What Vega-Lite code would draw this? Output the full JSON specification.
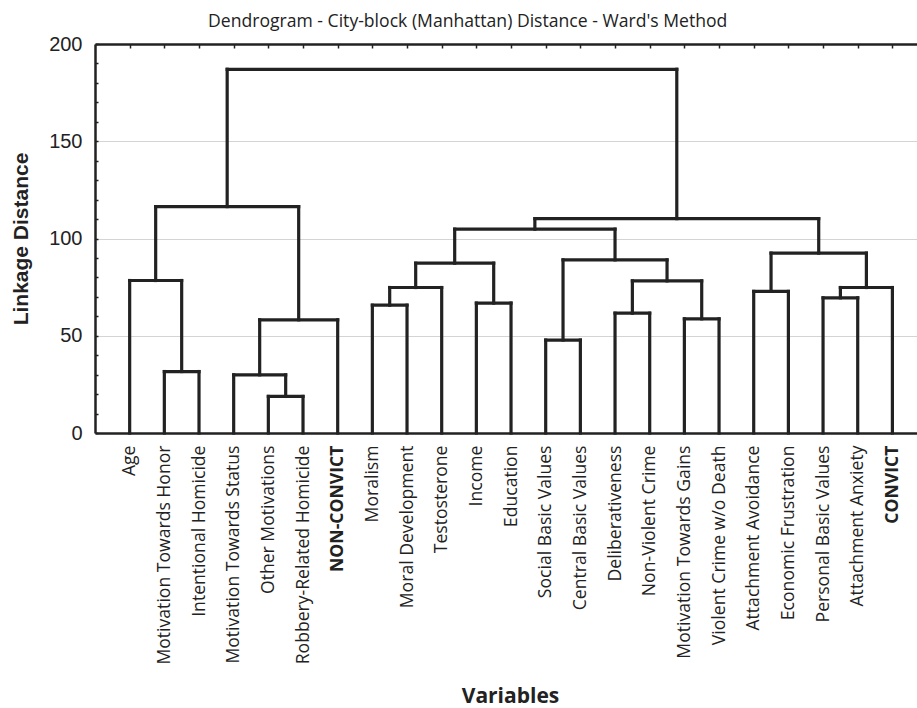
{
  "$schema": "https://vega.github.io/schema/vega-lite/v6.json",
  "width": 822,
  "height": 389,
  "autosize": "none",
  "padding": {"left": 95, "top": 44, "right": 0, "bottom": 275},
  "background": "white",
  "config": {"view": {"stroke": null}},
  "title": {
    "text": "Dendrogram - City-block (Manhattan) Distance - Ward's Method",
    "font": "Open Sans",
    "fontSize": 17.6,
    "fontWeight": "normal",
    "color": "#222222",
    "anchor": "start",
    "frame": "group",
    "dx": 113,
    "offset": 3
  },
  "data": {
    "values": [
      {"x": 2, "x2": 2, "y": 0, "y2": 31.6},
      {"x": 3, "x2": 3, "y": 0, "y2": 31.6},
      {"x": 2, "x2": 3, "y": 31.6, "y2": 31.6},
      {"x": 1, "x2": 1, "y": 0, "y2": 78.4},
      {"x": 2.5, "x2": 2.5, "y": 31.6, "y2": 78.4},
      {"x": 1, "x2": 2.5, "y": 78.4, "y2": 78.4},
      {"x": 5, "x2": 5, "y": 0, "y2": 18.8},
      {"x": 6, "x2": 6, "y": 0, "y2": 18.8},
      {"x": 5, "x2": 6, "y": 18.8, "y2": 18.8},
      {"x": 4, "x2": 4, "y": 0, "y2": 29.9},
      {"x": 5.5, "x2": 5.5, "y": 18.8, "y2": 29.9},
      {"x": 4, "x2": 5.5, "y": 29.9, "y2": 29.9},
      {"x": 4.75, "x2": 4.75, "y": 29.9, "y2": 58.2},
      {"x": 7, "x2": 7, "y": 0, "y2": 58.2},
      {"x": 4.75, "x2": 7, "y": 58.2, "y2": 58.2},
      {"x": 1.75, "x2": 1.75, "y": 78.4, "y2": 116.4},
      {"x": 5.875, "x2": 5.875, "y": 58.2, "y2": 116.4},
      {"x": 1.75, "x2": 5.875, "y": 116.4, "y2": 116.4},
      {"x": 8, "x2": 8, "y": 0, "y2": 65.7},
      {"x": 9, "x2": 9, "y": 0, "y2": 65.7},
      {"x": 8, "x2": 9, "y": 65.7, "y2": 65.7},
      {"x": 8.5, "x2": 8.5, "y": 65.7, "y2": 74.8},
      {"x": 10, "x2": 10, "y": 0, "y2": 74.8},
      {"x": 8.5, "x2": 10, "y": 74.8, "y2": 74.8},
      {"x": 11, "x2": 11, "y": 0, "y2": 66.8},
      {"x": 12, "x2": 12, "y": 0, "y2": 66.8},
      {"x": 11, "x2": 12, "y": 66.8, "y2": 66.8},
      {"x": 9.25, "x2": 9.25, "y": 74.8, "y2": 87.3},
      {"x": 11.5, "x2": 11.5, "y": 66.8, "y2": 87.3},
      {"x": 9.25, "x2": 11.5, "y": 87.3, "y2": 87.3},
      {"x": 13, "x2": 13, "y": 0, "y2": 47.8},
      {"x": 14, "x2": 14, "y": 0, "y2": 47.8},
      {"x": 13, "x2": 14, "y": 47.8, "y2": 47.8},
      {"x": 15, "x2": 15, "y": 0, "y2": 61.6},
      {"x": 16, "x2": 16, "y": 0, "y2": 61.6},
      {"x": 15, "x2": 16, "y": 61.6, "y2": 61.6},
      {"x": 17, "x2": 17, "y": 0, "y2": 58.7},
      {"x": 18, "x2": 18, "y": 0, "y2": 58.7},
      {"x": 17, "x2": 18, "y": 58.7, "y2": 58.7},
      {"x": 15.5, "x2": 15.5, "y": 61.6, "y2": 78.2},
      {"x": 17.5, "x2": 17.5, "y": 58.7, "y2": 78.2},
      {"x": 15.5, "x2": 17.5, "y": 78.2, "y2": 78.2},
      {"x": 13.5, "x2": 13.5, "y": 47.8, "y2": 89.0},
      {"x": 16.5, "x2": 16.5, "y": 78.2, "y2": 89.0},
      {"x": 13.5, "x2": 16.5, "y": 89.0, "y2": 89.0},
      {"x": 10.375, "x2": 10.375, "y": 87.3, "y2": 104.8},
      {"x": 15, "x2": 15, "y": 89.0, "y2": 104.8},
      {"x": 10.375, "x2": 15, "y": 104.8, "y2": 104.8},
      {"x": 19, "x2": 19, "y": 0, "y2": 72.8},
      {"x": 20, "x2": 20, "y": 0, "y2": 72.8},
      {"x": 19, "x2": 20, "y": 72.8, "y2": 72.8},
      {"x": 21, "x2": 21, "y": 0, "y2": 69.5},
      {"x": 22, "x2": 22, "y": 0, "y2": 69.5},
      {"x": 21, "x2": 22, "y": 69.5, "y2": 69.5},
      {"x": 21.5, "x2": 21.5, "y": 69.5, "y2": 74.8},
      {"x": 23, "x2": 23, "y": 0, "y2": 74.8},
      {"x": 21.5, "x2": 23, "y": 74.8, "y2": 74.8},
      {"x": 19.5, "x2": 19.5, "y": 72.8, "y2": 92.5},
      {"x": 22.25, "x2": 22.25, "y": 74.8, "y2": 92.5},
      {"x": 19.5, "x2": 22.25, "y": 92.5, "y2": 92.5},
      {"x": 12.6875, "x2": 12.6875, "y": 104.8, "y2": 110.2},
      {"x": 20.875, "x2": 20.875, "y": 92.5, "y2": 110.2},
      {"x": 12.6875, "x2": 20.875, "y": 110.2, "y2": 110.2},
      {"x": 3.8125, "x2": 3.8125, "y": 116.4, "y2": 187.0},
      {"x": 16.78125, "x2": 16.78125, "y": 110.2, "y2": 187.0},
      {"x": 3.8125, "x2": 16.78125, "y": 187.0, "y2": 187.0}
    ]
  },
  "resolve": {"axis": {"x": "independent"}},
  "layer": [
    {
      "mark": {"type": "rule", "color": "#222222", "strokeWidth": 3.2, "strokeCap": "square"},
      "encoding": {
        "x": {
          "field": "x",
          "type": "quantitative",
          "scale": {"domain": [0, 23.71], "nice": false, "zero": false},
          "axis": {
            "orient": "bottom",
            "values": [1,2,3,4,5,6,7,8,9,10,11,12,13,14,15,16,17,18,19,20,21,22,23],
            "labelExpr": "['Age','Motivation Towards Honor','Intentional Homicide','Motivation Towards Status','Other Motivations','Robbery-Related Homicide','NON-CONVICT','Moralism','Moral Development','Testosterone','Income','Education','Social Basic Values','Central Basic Values','Deliberativeness','Non-Violent Crime','Motivation Towards Gains','Violent Crime w/o Death','Attachment Avoidance','Economic Frustration','Personal Basic Values','Attachment Anxiety','CONVICT'][datum.value - 1]",
            "labelAngle": -90,
            "labelAlign": "right",
            "labelBaseline": "middle",
            "labelFont": "Open Sans",
            "labelFontSize": 17.6,
            "labelColor": "#222222",
            "labelFontWeight": {"condition": {"test": "datum.value === 7 || datum.value === 23", "value": "bold"}, "value": "normal"},
            "labelPadding": 12,
            "labelLimit": 0,
            "labelOverlap": false,
            "labelFlush": false,
            "labelBound": false,
            "ticks": false,
            "grid": false,
            "domain": true,
            "domainColor": "#222222",
            "domainWidth": 2.5,
            "title": "Variables",
            "titleFont": "Open Sans",
            "titleFontSize": 21,
            "titleFontWeight": "bold",
            "titleColor": "#222222",
            "titleBaseline": "alphabetic",
            "titleX": 415,
            "titleY": 269
          }
        },
        "x2": {"field": "x2"},
        "y": {
          "field": "y",
          "type": "quantitative",
          "scale": {"domain": [0, 200], "nice": false},
          "axis": {
            "values": [0,10,20,30,40,50,60,70,80,90,100,110,120,130,140,150,160,170,180,190,200],
            "labelExpr": "datum.value % 50 === 0 ? datum.label : ''",
            "labelFont": "Liberation Sans",
            "labelFontSize": 20,
            "labelColor": "#222222",
            "labelPadding": 16,
            "labelOverlap": false,
            "labelFlush": false,
            "labelLimit": 0,
            "tickSize": -3,
            "tickColor": "#222222",
            "tickWidth": 1.5,
            "grid": true,
            "gridColor": "#d4d4d4",
            "gridWidth": 1.2,
            "gridOpacity": {"condition": {"test": "datum.value % 50 === 0 && datum.value > 0", "value": 1}, "value": 0},
            "domain": true,
            "domainColor": "#222222",
            "domainWidth": 2.5,
            "title": "Linkage Distance",
            "titleFont": "Liberation Sans",
            "titleFontSize": 21,
            "titleFontWeight": "bold",
            "titleColor": "#222222",
            "titleBaseline": "alphabetic",
            "titleX": -68,
            "titleY": 194.5
          }
        },
        "y2": {"field": "y2"}
      }
    },
    {
      "mark": {"type": "rule", "opacity": 0},
      "encoding": {
        "x": {
          "field": "x",
          "type": "quantitative",
          "axis": {
            "orient": "top",
            "values": [1,2,3,4,5,6,7,8,9,10,11,12,13,14,15,16,17,18,19,20,21,22,23],
            "labels": false,
            "ticks": true,
            "tickSize": -4,
            "tickColor": "#222222",
            "tickWidth": 1.5,
            "grid": false,
            "domain": true,
            "domainColor": "#222222",
            "domainWidth": 2.5,
            "title": null
          }
        }
      }
    }
  ]
}
